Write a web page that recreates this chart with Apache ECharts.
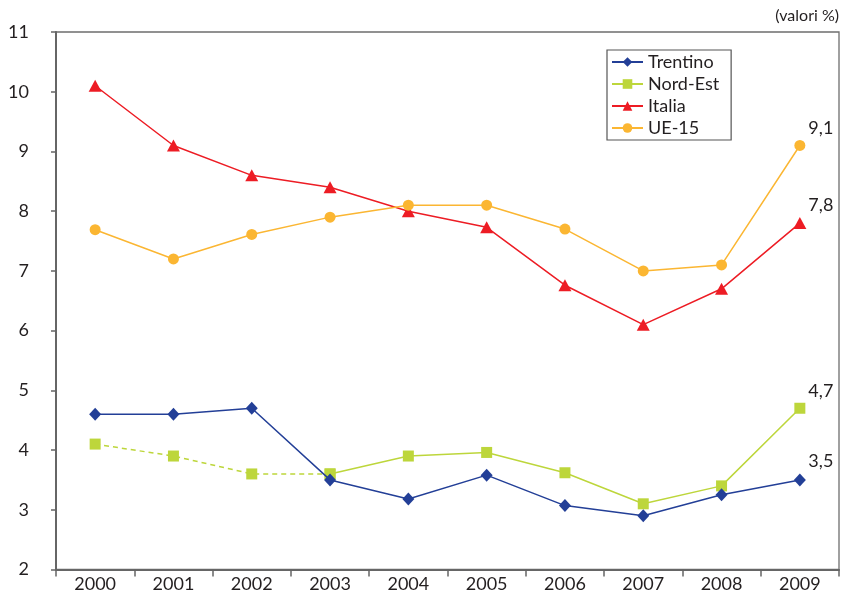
<!DOCTYPE html>
<html>
<head>
<meta charset="utf-8">
<script src="https://cdn.jsdelivr.net/npm/echarts@6/dist/echarts.min.js"></script>
<style>
html,body{margin:0;padding:0;background:#fff;}
#c{width:841px;height:594px;}
</style>
</head>
<body>
<div id="c"></div>
<script>
var years = ['2000','2001','2002','2003','2004','2005','2006','2007','2008','2009'];
var trentino = [4.6, 4.6, 4.7, 3.5, 3.18, 3.58, 3.07, 2.9, 3.25, 3.5];
var nordEst = [4.1, 3.9, 3.6, 3.6, 3.9, 3.96, 3.62, 3.1, 3.4, 4.7];
var italia = [10.1, 9.1, 8.6, 8.4, 8.0, 7.73, 6.76, 6.1, 6.7, 7.8];
var ue15 = [7.69, 7.2, 7.61, 7.9, 8.1, 8.1, 7.7, 7.0, 7.1, 9.1];
var nordEstDashedUntil = 3; // index where the dashed part ends
var yTicks = [2, 3, 4, 5, 6, 7, 8, 9, 10, 11];

var FONT = 'Lato';
var TXT = '#231f20';

function withEndLabel(arr) {
  return arr.map(function (v, i) {
    if (i === arr.length - 1) {
      return {
        value: v,
        label: {
          show: true, position: 'top', distance: 3, offset: [21, 0],
          fontFamily: FONT, fontSize: 18, color: TXT,
          formatter: function (p) { return String(p.value).replace('.', ','); }
        }
      };
    }
    return v;
  });
}

var neDashed = nordEst.map(function (v, i) { return i <= nordEstDashedUntil ? v : null; });
var neSolid = nordEst.map(function (v, i) { return i >= nordEstDashedUntil ? v : null; });

var C_TR = '#233f97', C_NE = '#bdd63b', C_IT = '#ed1c24', C_UE = '#fbb632';

var chart = echarts.init(document.getElementById('c'), null, {renderer: 'canvas'});
chart.setOption({
  animation: false,
  backgroundColor: '#fff',
  textStyle: {fontFamily: FONT},
  grid: {
    left: 56, right: 2, top: 32, bottom: 24.5,
    show: true, borderColor: '#6e6e6e', borderWidth: 1.3, backgroundColor: 'transparent'
  },
  legend: {
    orient: 'vertical', left: 607, top: 50,
    data: ['Trentino', 'Nord-Est', 'Italia', 'UE-15'],
    itemWidth: 31, itemHeight: 12, itemGap: 4,
    padding: [3, 12, 3, 4],
    borderColor: '#555', borderWidth: 1.2, backgroundColor: '#fff',
    textStyle: {fontFamily: FONT, fontSize: 18, lineHeight: 17, color: TXT}
  },
  graphic: [{
    type: 'text', right: 2, top: 8,
    style: {text: '(valori %)', fontFamily: FONT, fontSize: 16, fill: TXT}
  }],
  xAxis: {
    type: 'category', data: years, boundaryGap: true,
    axisLine: {lineStyle: {color: '#666', width: 2}},
    axisTick: {show: true, length: 7, interval: 0, lineStyle: {color: '#666', width: 1.5}},
    axisLabel: {margin: 6, fontFamily: FONT, fontSize: 18, color: TXT, interval: 0}
  },
  yAxis: {
    type: 'value', min: yTicks[0], max: yTicks[yTicks.length - 1], interval: 1,
    axisLine: {show: true, lineStyle: {color: '#666', width: 2}},
    axisTick: {show: true, length: 5, lineStyle: {color: '#666', width: 1.5}},
    splitLine: {show: false},
    axisLabel: {margin: 27, fontFamily: FONT, fontSize: 18, color: TXT}
  },
  series: [
    {
      name: 'Trentino', type: 'line', data: withEndLabel(trentino),
      symbol: 'diamond', symbolSize: [12, 13], color: C_TR,
      lineStyle: {width: 1.5, color: C_TR}, itemStyle: {color: C_TR}, z: 4
    },
    {
      name: 'Nord-Est', type: 'line', data: withEndLabel(neSolid),
      symbol: 'rect', symbolSize: 11, color: C_NE,
      lineStyle: {width: 1.5, color: C_NE}, itemStyle: {color: C_NE}, z: 3
    },
    {
      name: 'Nord-Est dashed', type: 'line', data: neDashed,
      symbol: 'rect', symbolSize: 11, color: C_NE,
      lineStyle: {width: 1.5, color: C_NE, type: [5, 4]}, itemStyle: {color: C_NE}, z: 3
    },
    {
      name: 'Italia', type: 'line', data: withEndLabel(italia),
      symbol: 'triangle', symbolSize: [13, 12], color: C_IT,
      lineStyle: {width: 1.5, color: C_IT}, itemStyle: {color: C_IT}, z: 2
    },
    {
      name: 'UE-15', type: 'line', data: withEndLabel(ue15),
      symbol: 'circle', symbolSize: 11, color: C_UE,
      lineStyle: {width: 1.5, color: C_UE}, itemStyle: {color: C_UE}, z: 2
    }
  ]
});
</script>
</body>
</html>
